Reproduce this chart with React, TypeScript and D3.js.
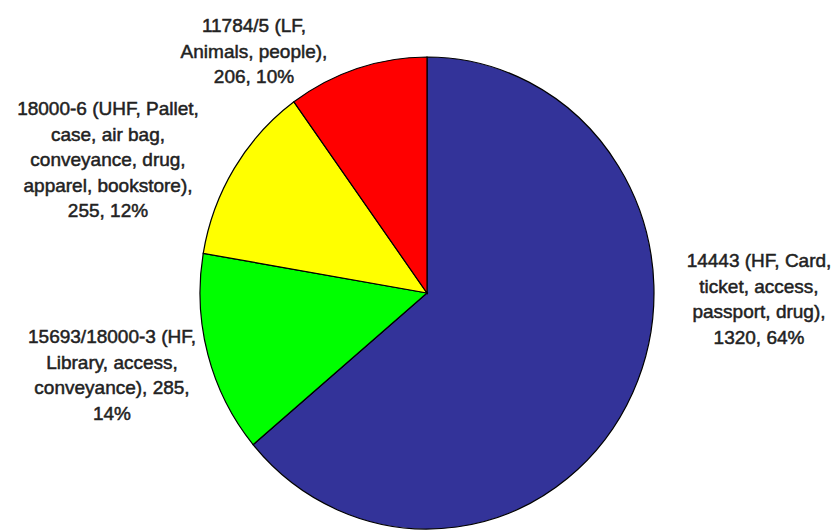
import React from "react";
import * as d3 from "d3";

const categories = [
  "14443 (HF, Card, ticket, access, passport, drug)",
  "15693/18000-3 (HF, Library, access, conveyance)",
  "18000-6 (UHF, Pallet, case, air bag, conveyance, drug, apparel, bookstore)",
  "11784/5 (LF, Animals, people)",
];
const values = [1320, 285, 255, 206];
const percents = ["64%", "14%", "12%", "10%"];
const colors = ["#333399", "#00FF00", "#FFFF00", "#FF0000"];
const labelLines = [
  ["14443 (HF, Card,", "ticket, access,", "passport, drug),", "1320, 64%"],
  ["15693/18000-3 (HF,", "Library, access,", "conveyance), 285,", "14%"],
  ["18000-6 (UHF, Pallet,", "case, air bag,", "conveyance, drug,", "apparel, bookstore),", "255, 12%"],
  ["11784/5 (LF,", "Animals, people),", "206, 10%"],
];
// layout of label blocks (center x, first baseline y)
const labelLayout = [
  { x: 759, y: 267 },
  { x: 112, y: 343 },
  { x: 108, y: 115 },
  { x: 254, y: 32 },
];

const W = 838;
const H = 531;
const cx = 427;
const cy = 293;
const rx = 227;
const ry = 236;
const lineH = 25.5;

export default function App() {
  const pie = d3
    .pie<number>()
    .sort(null)
    .value((d) => d)
    .startAngle(0)
    .endAngle(2 * Math.PI);
  const arcs = pie(values);
  const arc = d3.arc<d3.PieArcDatum<number>>().innerRadius(0).outerRadius(rx);

  return (
    <svg
      width={W}
      height={H}
      style={{ position: "absolute", left: 0, top: 0, background: "#fff" }}
      fontFamily="Liberation Sans, Arial, sans-serif"
    >
      <g transform={`translate(${cx},${cy}) scale(1,${ry / rx})`}>
        {arcs.map((a, i) => (
          <path
            key={categories[i]}
            d={arc(a) || ""}
            fill={colors[i]}
            stroke="#000"
            strokeWidth={1.2}
            vectorEffect="non-scaling-stroke"
          />
        ))}
      </g>
      {labelLines.map((lines, i) => (
        <text
          key={i}
          x={labelLayout[i].x}
          y={labelLayout[i].y}
          textAnchor="middle"
          fontSize={19}
          fill="#222"
          stroke="#222"
          strokeWidth={0.5}
          data-pct={percents[i]}
        >
          {lines.map((l, j) => (
            <tspan key={j} x={labelLayout[i].x} dy={j === 0 ? 0 : lineH}>
              {l}
            </tspan>
          ))}
        </text>
      ))}
    </svg>
  );
}
